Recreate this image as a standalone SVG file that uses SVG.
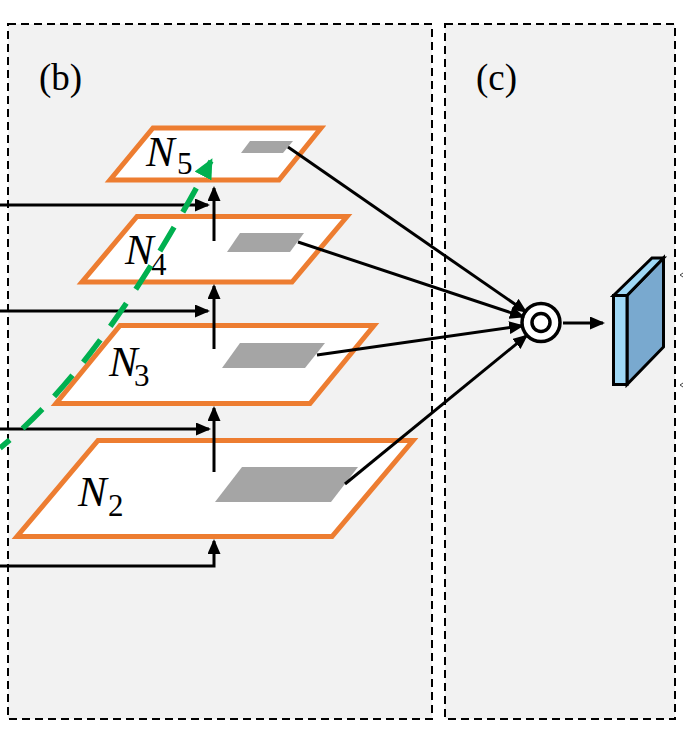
<svg xmlns="http://www.w3.org/2000/svg" width="684" height="733" viewBox="0 0 684 733">
<style>
.panel{fill:#f2f2f2;stroke:#000;stroke-width:2;stroke-dasharray:8 5}
.plane{fill:#fff;stroke:#ed7d31;stroke-width:5;stroke-linejoin:miter}
.roi{fill:#a5a5a5}
.lbl{font-family:"Liberation Serif","Times New Roman",serif;fill:#000}
.nl{font-family:"Liberation Serif","Times New Roman",serif;font-style:italic;font-size:43px;fill:#000}
.ns{font-family:"Liberation Serif","Times New Roman",serif;font-size:31px;fill:#000}
.arr{fill:none;stroke:#000;stroke-width:3;marker-end:url(#ah)}
.slab{stroke:#000;stroke-width:3;stroke-linejoin:miter}
</style>
<defs>
<marker id="ah" viewBox="0 0 15 13" refX="13" refY="6.5" markerWidth="15" markerHeight="13" markerUnits="userSpaceOnUse" orient="auto">
<path d="M0,0 L15,6.5 L0,13 z" fill="#000"/>
</marker>
<marker id="gh" viewBox="0 0 20 19" refX="17" refY="9.5" markerWidth="20" markerHeight="19" markerUnits="userSpaceOnUse" orient="auto">
<path d="M0,0 L20,9.5 L0,19 z" fill="#00b050"/>
</marker>
</defs>
<rect x="0" y="0" width="684" height="733" fill="#fff"/>
<g id="panel-b">
<rect class="panel" x="8" y="24" width="424" height="695"/>
<text class="lbl" x="39" y="90" font-size="37">(b)</text>
</g>
<g id="panel-c">
<rect class="panel" x="445" y="24" width="230" height="695"/>
<text class="lbl" x="476" y="90" font-size="37">(c)</text>
</g>
<g id="N2">
<polygon class="plane" points="98,440.5 413,440.5 332,536.5 17,536.5"/>
<polygon class="roi" points="242,467 358,467 331,502 215,502"/>
<text class="nl" x="78" y="506">N</text><text class="ns" x="108" y="516">2</text>
</g>
<g id="N3">
<polygon class="plane" points="120,325.5 374,325.5 310,403.5 56,403.5"/>
<polygon class="roi" points="240,343 325,343 305,368 222,368"/>
<text class="nl" x="109" y="376">N</text><text class="ns" x="134" y="386">3</text>
</g>
<g id="N4">
<polygon class="plane" points="137,216.5 347,216.5 292,282 82,282"/>
<polygon class="roi" points="240,233 304,233 290,252 227,252"/>
<text class="nl" x="125" y="264">N</text><text class="ns" x="151" y="275">4</text>
</g>
<g id="N5">
<polygon class="plane" points="153,128 321,128 279,180 110,180"/>
<polygon class="roi" points="250,141 293,141 283,153 241,153"/>
<text class="nl" x="146" y="166">N</text><text class="ns" x="177" y="174">5</text>
</g>
<g id="fusion">
<circle cx="541" cy="322.5" r="19" fill="#fff" stroke="#000" stroke-width="3.5"/>
<circle cx="541" cy="322.5" r="9" fill="#fff" stroke="#000" stroke-width="3.5"/>
</g>
<g id="feature">
<polygon class="slab" fill="#79a9cf" points="627,295.5 663.5,258 663.5,347 627,384.5"/>
<polygon class="slab" fill="#9fd8f6" points="613.5,295.5 652,258 663.5,258 627,295.5"/>
<rect class="slab" fill="#9fd8f6" x="613.5" y="295.5" width="13.5" height="89"/>
</g>
<g id="connectors">
<path class="arr" d="M0,205 L208,205"/>
<path class="arr" d="M0,311 L208,311"/>
<path class="arr" d="M0,429 L209,429"/>
<path class="arr" d="M0,566 L214,566 L214,541"/>
<path class="arr" d="M214,472 L214,408"/>
<path class="arr" d="M214,349 L214,286"/>
<path class="arr" d="M214,241 L214,188"/>
<path class="arr" d="M288,147 L525.6,311.6"/>
<path class="arr" d="M298,242 L523,316.7"/>
<path class="arr" d="M317,355 L522.2,325.8"/>
<path class="arr" d="M345,484 L526.5,335.7"/>
<path class="arr" d="M563,323 L603,323"/>
<path d="M0,448 Q101.6,366.7 211,161" fill="none" stroke="#00b050" stroke-width="5.5" stroke-dasharray="28 17" stroke-dashoffset="15" marker-end="url(#gh)"/>
<path d="M683,273 L680,275 L683,277" fill="none" stroke="#444" stroke-width="1"/>
<path d="M683,383 L680,385 L683,387" fill="none" stroke="#444" stroke-width="1"/>
</g>
</svg>
